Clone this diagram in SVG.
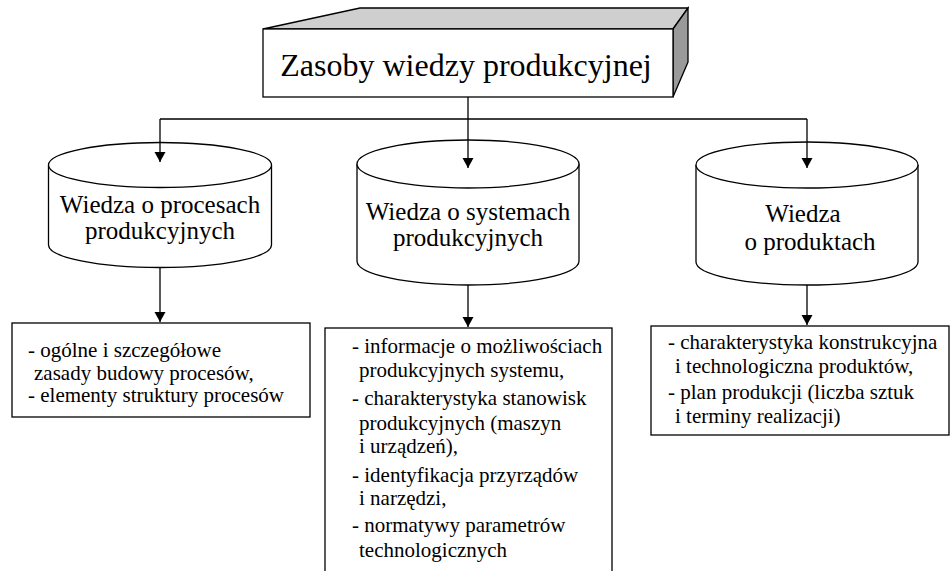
<svg xmlns="http://www.w3.org/2000/svg" width="951" height="571" viewBox="0 0 951 571">
<style>
text{font-family:Liberation Serif, Times New Roman, Times, serif}
.t{font-size:32px;text-anchor:middle}
.c{font-size:25px;text-anchor:middle}
.b{font-size:21px}
.s{fill:#fff;stroke:#000;stroke-width:1.3}
.ln{fill:none;stroke:#000;stroke-width:1.3}
</style>
<defs>
<marker id="ah" markerUnits="userSpaceOnUse" markerWidth="12" markerHeight="12" viewBox="0 0 12 12" refX="10" refY="6" orient="auto">
<path d="M0,0.5 L10,6 L0,11.5 Z" fill="#000"/>
</marker>
</defs>
<rect width="951" height="571" fill="#fff"/>
<g fill="#000">
<g id="title">
<polygon points="263,29 360,8 688,8 673,29" fill="#cfcfcf" stroke="#000" stroke-width="1.3"/>
<polygon points="673,29 688,8 688,62 673,97" fill="#9a9a9a" stroke="#000" stroke-width="1.3"/>
<rect x="263" y="29" width="410" height="68" class="s"/>
<text class="t" x="466" y="76" font-family="Liberation Serif">Zasoby wiedzy produkcyjnej</text>
</g>
<g id="cyl1">
<path class="s" d="M48.5,165 V245 A111.5,22.5 0 0 0 271.5,245 V165"/>
<ellipse class="s" cx="160" cy="165" rx="111.5" ry="22.5"/>
<text class="c" x="160" y="213">Wiedza o procesach</text>
<text class="c" x="160" y="239">produkcyjnych</text>
</g>
<g id="cyl2">
<path class="s" d="M357,164 V261 A111,24 0 0 0 579,261 V164"/>
<ellipse class="s" cx="468" cy="164" rx="111" ry="24"/>
<text class="c" x="468" y="220">Wiedza o systemach</text>
<text class="c" x="468" y="246">produkcyjnych</text>
</g>
<g id="cyl3">
<path class="s" d="M696,165 V262 A111,23 0 0 0 918,262 V165"/>
<ellipse class="s" cx="807" cy="165" rx="111" ry="23"/>
<text class="c" x="803" y="222">Wiedza</text>
<text class="c" x="810" y="250">o produktach</text>
</g>
<g id="box1">
<rect class="s" x="12" y="323" width="298" height="94"/>
<text class="b" x="28" y="357">- ogólne i szczegółowe</text>
<text class="b" x="34" y="380">zasady budowy procesów,</text>
<text class="b" x="28" y="402">- elementy struktury procesów</text>
</g>
<g id="box2">
<rect class="s" x="325" y="328" width="287" height="260"/>
<text class="b" x="352" y="353">- informacje o możliwościach</text>
<text class="b" x="359" y="377">produkcyjnych systemu,</text>
<text class="b" x="352" y="405">- charakterystyka stanowisk</text>
<text class="b" x="359" y="430">produkcyjnych (maszyn</text>
<text class="b" x="359" y="453">i urządzeń),</text>
<text class="b" x="352" y="482">- identyfikacja przyrządów</text>
<text class="b" x="359" y="505">i narzędzi,</text>
<text class="b" x="352" y="532">- normatywy parametrów</text>
<text class="b" x="359" y="557">technologicznych</text>
</g>
<g id="box3">
<rect class="s" x="651" y="326" width="298" height="109"/>
<text class="b" x="668" y="349">- charakterystyka konstrukcyjna</text>
<text class="b" x="675" y="373">i technologiczna produktów,</text>
<text class="b" x="668" y="399">- plan produkcji (liczba sztuk</text>
<text class="b" x="675" y="423">i terminy realizacji)</text>
</g>
</g>
<g id="connectors">
<path class="ln" d="M468,97 V119 M160,119 H807"/>
<path class="ln" d="M160,119 V162" marker-end="url(#ah)"/>
<path class="ln" d="M468,119 V168" marker-end="url(#ah)"/>
<path class="ln" d="M807,119 V168" marker-end="url(#ah)"/>
<path class="ln" d="M160,267 V322" marker-end="url(#ah)"/>
<path class="ln" d="M468,285 V327" marker-end="url(#ah)"/>
<path class="ln" d="M807,285 V325" marker-end="url(#ah)"/>
</g>
</svg>
